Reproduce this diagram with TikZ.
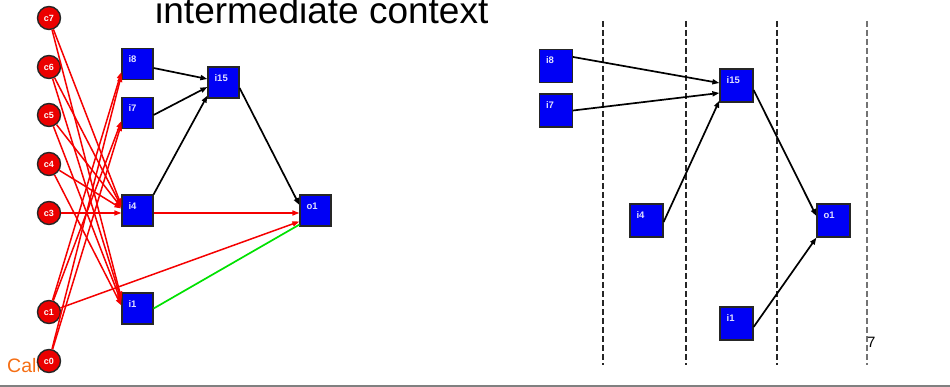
\documentclass[tikz,border=0pt]{standalone}
\usepackage{fontspec}
\setmainfont{Liberation Sans}
\usetikzlibrary{arrows.meta}
\definecolor{boxblue}{RGB}{0,0,245}
\definecolor{nodered}{RGB}{235,0,0}
\definecolor{edgered}{RGB}{245,0,0}
\definecolor{edgegreen}{RGB}{0,225,0}
\definecolor{lbltext}{RGB}{225,225,255}
\definecolor{brandorange}{RGB}{245,110,20}
\begin{document}
\begin{tikzpicture}[x=1pt,y=-1pt,
  unitbox/.style={draw=black!85, line width=1.2pt, fill=boxblue, minimum size=#1, inner sep=0},
  lbl/.style={anchor=north west, inner sep=0, xshift=7pt, yshift=-8pt, text=lbltext,
              font=\fontsize{9.5}{10}\selectfont\bfseries},
  ctx/.style={circle, draw=black!85, line width=1.4pt, fill=nodered, minimum size=23pt,
              inner sep=0, text=white, font=\fontsize{9}{10}\selectfont\bfseries},
  tip/.style={-{Triangle[length=7pt,width=5pt]}},
  blkarr/.style={tip, draw=black, fill=black, line width=1.7pt},
  redarr/.style={tip, draw=edgered, fill=edgered, line width=1.5pt},
  grnarr/.style={draw=edgegreen, line width=1.7pt},
  lane/.style={line width=1.9pt, dash pattern=on 6pt off 3pt}
]
\useasboundingbox (0,0) rectangle (950,387);
\fill[white] (0,0) rectangle (950,387);

% heading, footer text and rule
\node[anchor=base west, inner sep=0, font=\fontsize{37}{44}\selectfont] (title) at (155,24) {intermediate context};
\begin{scope}
  \clip (0,340) rectangle (38,387);
  \node[anchor=base west, inner sep=0, text=brandorange, font=\fontsize{19.5}{22}\selectfont] (brand) at (7,372) {Calt};
\end{scope}
\draw[gray, line width=2pt] (0,386) -- (950,386);

% ---------- network on the left ----------
\node[ctx] (c7) at (49,18) {c7};
\node[ctx] (c6) at (49,67) {c6};
\node[ctx] (c5) at (49,115) {c5};
\node[ctx] (c4) at (49,164) {c4};
\node[ctx] (c3) at (49,213) {c3};
\node[ctx] (c1) at (49,312) {c1};
\node[ctx] (c0) at (49,361) {c0};

\node[unitbox=31pt, label={[lbl]north west:i8}] (Li8) at (137.5,64) {};
\node[unitbox=31pt, label={[lbl]north west:i7}] (Li7) at (137.5,113) {};
\node[unitbox=31pt, label={[lbl]north west:i4}] (Li4) at (137.5,210.5) {};
\node[unitbox=31pt, label={[lbl]north west:i1}] (Li1) at (137.5,308.5) {};
\node[unitbox=31pt, label={[lbl]north west:i15}] (Li15) at (223.5,82.5) {};
\node[unitbox=31pt, label={[lbl]north west:o1}] (Lo1) at (315.5,210.5) {};

% context units feeding the hidden units
\draw[redarr] (c7) -- ([yshift=5pt]Li4.west);
\draw[redarr] (c7) -- ([yshift=10pt]Li1.west);
\draw[redarr] (c6) -- ([yshift=4pt]Li4.west);
\draw[redarr] (c6) -- ([yshift=8pt]Li1.west);
\draw[redarr] (c5) -- ([yshift=3pt]Li4.west);
\draw[redarr] (c5) -- ([yshift=6pt]Li1.west);
\draw[redarr] (c4) -- ([yshift=2pt]Li4.west);
\draw[redarr] (c4) -- ([yshift=3pt]Li1.west);
\draw[redarr] (c3) -- ([yshift=-2.5pt]Li4.west);
\draw[redarr] (c1) -- ([yshift=-8pt]Li8.west);
\draw[redarr] (c1) -- ([yshift=-8pt]Li7.west);
\draw[redarr] (c0) -- ([yshift=-11pt]Li8.west);
\draw[redarr] (c0) -- ([yshift=-11pt]Li7.west);
\draw[redarr] (c1) -- ([yshift=-11pt]Lo1.west);
\draw[redarr] ([yshift=-2.5pt]Li4.east) -- ([yshift=-2.5pt]Lo1.west);
\draw[grnarr] (Li1.east) -- ([yshift=2pt]Lo1.south west);

% hidden-to-hidden and output links
\draw[blkarr] ([yshift=-4pt]Li8.east) -- ([yshift=3.5pt]Li15.west);
\draw[blkarr] ([yshift=-2pt]Li7.east) -- ([yshift=-4.5pt]Li15.west);
\draw[blkarr] (Li4.north east) -- ([yshift=3pt]Li15.south west);
\draw[blkarr] ([yshift=-5.5pt]Li15.east) -- ([yshift=5.5pt]Lo1.west);

% ---------- unrolled view on the right ----------
\draw[lane, black!85] (603,21) -- (603,365);
\draw[lane, black!85] (686,21) -- (686,365);
\draw[lane, black!85] (777,21) -- (777,365);
\draw[lane, black!55] (867,21) -- (867,365);

\node[unitbox=33pt, label={[lbl]north west:i8}] (Ri8) at (556,66) {};
\node[unitbox=33pt, label={[lbl]north west:i7}] (Ri7) at (556,110.5) {};
\node[unitbox=33pt, label={[lbl]north west:i15}] (Ri15) at (736.5,85.5) {};
\node[unitbox=33pt, label={[lbl]north west:i4}] (Ri4) at (646.5,220.5) {};
\node[unitbox=33pt, label={[lbl]north west:o1}] (Ro1) at (833.5,220.5) {};
\node[unitbox=33pt, label={[lbl]north west:i1}] (Ri1) at (736.5,323.5) {};

\draw[blkarr] ([yshift=9pt]Ri8.east) -- ([yshift=2.5pt]Ri15.west);
\draw[blkarr] (Ri7.east) -- ([yshift=-7.5pt]Ri15.west);
\draw[blkarr] ([yshift=-1.5pt]Ri4.east) -- ([yshift=2pt]Ri15.south west);
\draw[blkarr] ([yshift=-4.5pt]Ri15.east) -- ([yshift=4.5pt]Ro1.west);
\draw[blkarr] ([yshift=-3.5pt]Ri1.east) -- (Ro1.south west);

\node[anchor=base west, inner sep=0, font=\fontsize{15}{18}\selectfont] (pnum) at (867,347) {7};
\end{tikzpicture}
\end{document}
